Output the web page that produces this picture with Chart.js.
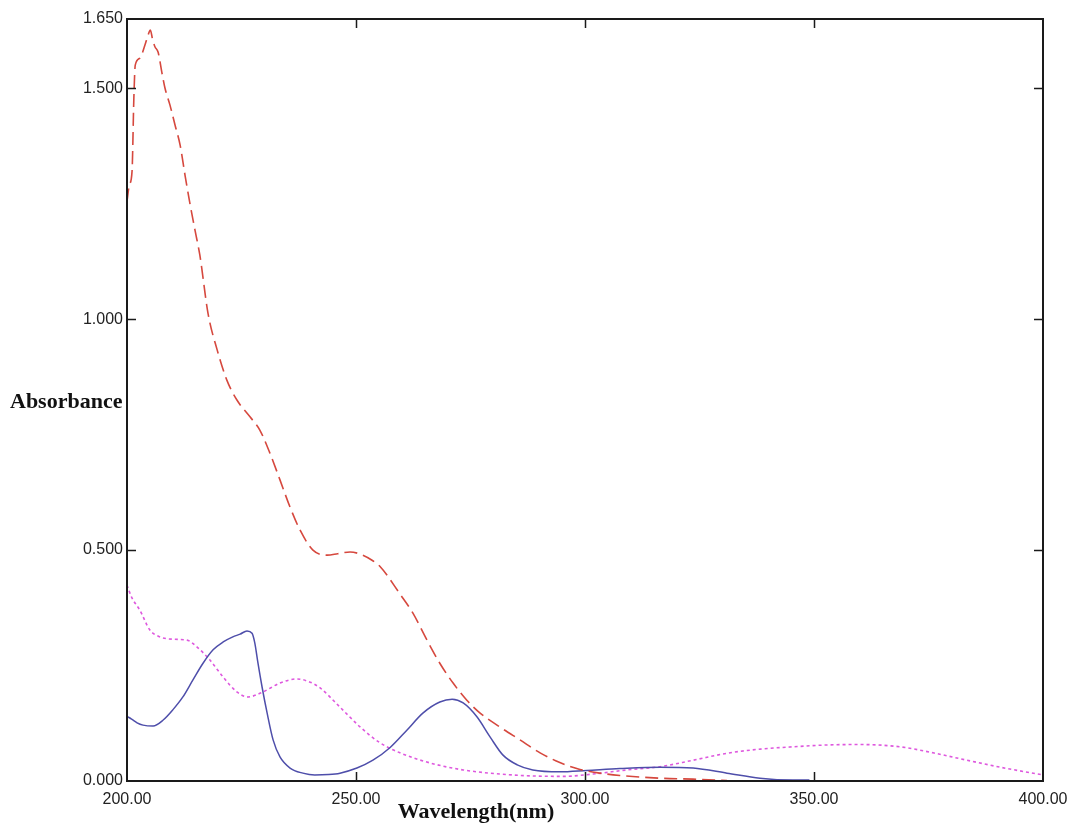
<!DOCTYPE html>
<html>
<head>
<meta charset="utf-8">
<script src="https://cdn.jsdelivr.net/npm/chart.js@4.4.1/dist/chart.umd.min.js"></script>
<style>
html,body{margin:0;padding:0;background:#fff;}
canvas{display:block;}
</style>
</head>
<body>
<canvas id="c" width="1069" height="827"></canvas>
<script>
// Tick values
const xTicks = [200, 250, 300, 350, 400];
const yTicks = [0, 0.5, 1.0, 1.5, 1.65];

// Red dashed series
const redX = [200.0,200.5,201.1,201.5,201.8,202.8,203.9,204.6,205.1,205.6,206.1,206.8,207.6,208.3,209.4,210.5,211.6,212.7,213.8,214.9,215.9,217.7,219.7,221.8,224.0,226.9,229.0,231.2,233.4,235.6,237.8,240.6,243.7,246.0,248.7,251.5,253.5,255.2,259.6,262.4,265.5,268.3,271.2,274.2,277.1,281.4,285.8,290.2,294.5,298.9,303.3,307.6,316.4,323.6,331.0];
const redY = [1.255,1.29,1.32,1.48,1.55,1.565,1.593,1.615,1.626,1.605,1.59,1.578,1.535,1.50,1.463,1.42,1.377,1.31,1.247,1.19,1.139,1.012,0.933,0.868,0.825,0.788,0.760,0.710,0.652,0.593,0.543,0.500,0.489,0.492,0.496,0.489,0.478,0.465,0.405,0.364,0.305,0.255,0.212,0.175,0.147,0.117,0.089,0.061,0.040,0.025,0.017,0.012,0.006,0.004,0.001];

// Blue solid series
const blueX = [200.0,201.0,202.2,203.5,205.7,207.9,210.0,212.2,214.4,216.6,218.8,221.0,223.1,224.7,226.2,227.3,227.9,228.6,229.5,230.6,231.9,233.4,235.6,238.4,241.0,244.0,246.5,250.2,253.7,257.4,261.1,264.6,268.3,271.0,273.4,276.4,279.3,282.1,285.2,288.6,294.5,300.4,307.6,316.4,323.6,331.0,338.2,345.4,349.0];
const blueY = [0.140,0.134,0.126,0.121,0.119,0.132,0.154,0.182,0.219,0.255,0.284,0.301,0.312,0.318,0.325,0.320,0.299,0.255,0.203,0.147,0.089,0.052,0.028,0.017,0.013,0.014,0.017,0.028,0.045,0.072,0.110,0.147,0.171,0.177,0.169,0.139,0.095,0.056,0.035,0.024,0.020,0.023,0.027,0.030,0.028,0.017,0.006,0.002,0.002];

// Magenta dotted series
const pinkX = [200.0,201.0,202.8,205.0,207.2,210.0,213.1,215.3,218.1,221.0,224.0,226.4,229.7,233.4,237.1,240.0,242.1,246.5,250.9,255.2,259.6,266.2,273.4,284.3,295.2,301.7,309.2,316.4,323.6,331.0,338.2,345.4,352.8,360.0,368.8,376.0,383.4,390.6,400.0];
const pinkY = [0.424,0.398,0.370,0.327,0.312,0.307,0.305,0.290,0.262,0.225,0.193,0.182,0.193,0.212,0.221,0.214,0.202,0.160,0.117,0.083,0.061,0.039,0.024,0.013,0.010,0.015,0.024,0.031,0.045,0.060,0.069,0.074,0.078,0.079,0.074,0.061,0.045,0.030,0.013];

const toPts = (xs, ys) => xs.map((x, i) => ({x: x, y: ys[i]}));

const frameColor = '#1a1a1a';
const tickLen = 9;

const framePlugin = {
  id: 'frame',
  afterDraw(chart) {
    const ctx = chart.ctx;
    const a = chart.chartArea;
    const xs = chart.scales.x, ys = chart.scales.y;
    ctx.save();
    ctx.strokeStyle = frameColor;
    ctx.lineWidth = 2;
    ctx.strokeRect(a.left, a.top, a.right - a.left, a.bottom - a.top);
    ctx.lineWidth = 1.5;
    ctx.beginPath();
    xTicks.forEach(v => {
      const px = Math.round(xs.getPixelForValue(v)) + 0.5;
      if (v === xTicks[0] || v === xTicks[xTicks.length - 1]) return;
      ctx.moveTo(px, a.bottom); ctx.lineTo(px, a.bottom - tickLen);
      ctx.moveTo(px, a.top); ctx.lineTo(px, a.top + tickLen);
    });
    yTicks.forEach(v => {
      const py = Math.round(ys.getPixelForValue(v)) + 0.5;
      if (v === yTicks[0] || v === yTicks[yTicks.length - 1]) return;
      ctx.moveTo(a.left, py); ctx.lineTo(a.left + tickLen, py);
      ctx.moveTo(a.right, py); ctx.lineTo(a.right - tickLen, py);
    });
    ctx.stroke();
    // axis titles
    ctx.fillStyle = '#111';
    ctx.font = 'bold 22px "Liberation Serif", "Times New Roman", serif';
    ctx.textBaseline = 'middle';
    ctx.textAlign = 'left';
    ctx.fillText('Absorbance', 10, ys.getPixelForValue(0.82));
    ctx.textAlign = 'center';
    ctx.fillText('Wavelength(nm)', xs.getPixelForValue(276.2), 812);
    ctx.restore();
  }
};

new Chart(document.getElementById('c'), {
  type: 'line',
  data: {
    datasets: [
      {
        data: toPts(redX, redY),
        borderColor: 'rgb(214,72,62)',
        borderWidth: 1.6,
        borderDash: [13, 6],
        pointRadius: 0,
        cubicInterpolationMode: 'monotone',
        fill: false
      },
      {
        data: toPts(blueX, blueY),
        borderColor: 'rgb(78,78,170)',
        borderWidth: 1.5,
        pointRadius: 0,
        cubicInterpolationMode: 'monotone',
        fill: false
      },
      {
        data: toPts(pinkX, pinkY),
        borderColor: 'rgb(222,88,222)',
        borderWidth: 1.6,
        borderDash: [3, 3],
        pointRadius: 0,
        cubicInterpolationMode: 'monotone',
        fill: false
      }
    ]
  },
  options: {
    responsive: false,
    animation: false,
    events: [],
    layout: { padding: { top: 19, right: 26, left: 0, bottom: 0 } },
    plugins: { legend: { display: false }, tooltip: { enabled: false }, title: { display: false } },
    scales: {
      x: {
        type: 'linear',
        min: 200, max: 400,
        grid: { display: false, drawTicks: false },
        border: { display: false },
        afterBuildTicks: s => { s.ticks = xTicks.map(v => ({value: v})); },
        afterFit: s => { s.height = 46; s.paddingLeft = 0; s.paddingRight = 0; },
        ticks: {
          padding: 9,
          maxRotation: 0,
          autoSkip: false,
          color: '#222',
          font: { family: '"Liberation Sans", Arial, sans-serif', size: 16 },
          callback: v => Number(v).toFixed(2)
        }
      },
      y: {
        type: 'linear',
        min: 0, max: 1.65,
        grid: { display: false, drawTicks: false },
        border: { display: false },
        afterBuildTicks: s => { s.ticks = yTicks.map(v => ({value: v})); },
        afterFit: s => { s.width = 127; s.paddingTop = 0; s.paddingBottom = 0; },
        ticks: {
          padding: 4,
          autoSkip: false,
          color: '#222',
          font: { family: '"Liberation Sans", Arial, sans-serif', size: 16 },
          callback: v => Number(v).toFixed(3)
        }
      }
    }
  },
  plugins: [framePlugin]
});
</script>
</body>
</html>
